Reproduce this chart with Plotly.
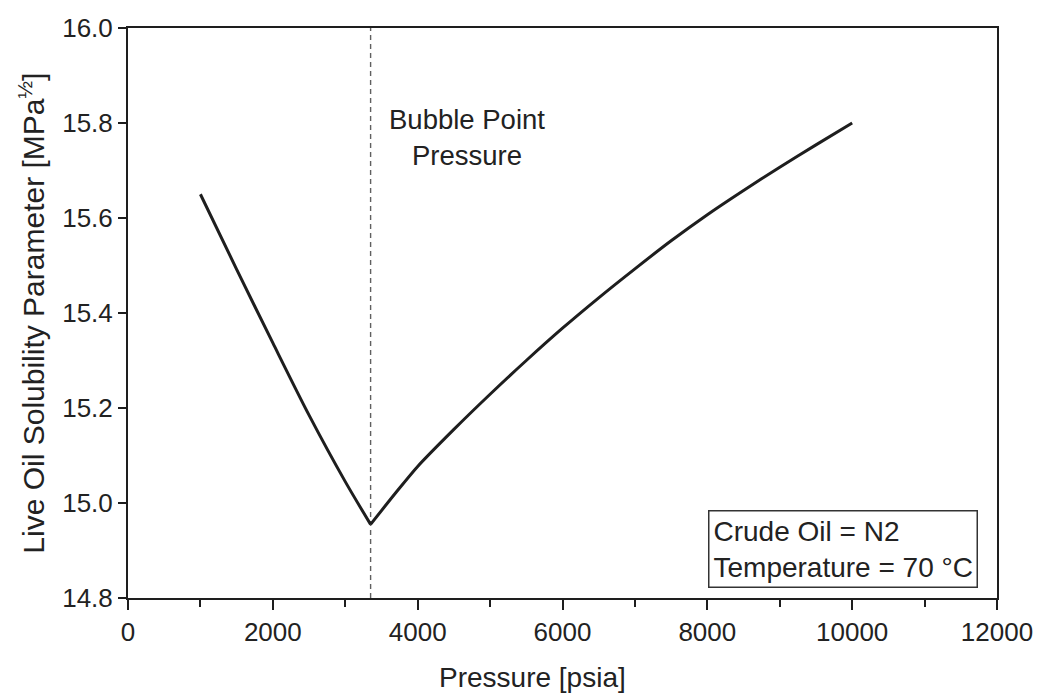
import plotly.graph_objects as go

# Data
pressure_below = [1000, 1500, 2000, 2500, 3000, 3350]
solubility_below = [15.65, 15.492, 15.337, 15.185, 15.045, 14.955]
pressure_above = [3350, 3700, 4000, 4500, 5000, 5500, 6000, 6500, 7000, 7500, 8000, 8500, 9000, 9500, 10000]
solubility_above = [14.955, 15.022, 15.077, 15.155, 15.229, 15.300, 15.368, 15.432, 15.493, 15.552, 15.607, 15.658, 15.707, 15.754, 15.80]
bubble_point = 3350
x_ticks = [0, 2000, 4000, 6000, 8000, 10000, 12000]
y_ticks = [14.8, 15.0, 15.2, 15.4, 15.6, 15.8, 16.0]

FONT = "Liberation Sans, Arial, sans-serif"
INK = "#1e1e1e"

fig = go.Figure()
fig.add_trace(go.Scatter(
    x=[bubble_point, bubble_point], y=[y_ticks[0], y_ticks[-1]],
    mode="lines", line=dict(color="#606060", width=1.4, dash="5px,4px"),
    showlegend=False, hoverinfo="skip"))
for xs, ys in ((pressure_below, solubility_below), (pressure_above, solubility_above)):
    fig.add_trace(go.Scatter(
        x=xs, y=ys, mode="lines",
        line=dict(color=INK, width=3, shape="spline", smoothing=0.8),
        showlegend=False))

fig.update_layout(
    width=1045, height=694,
    margin=dict(l=128, r=42, t=28, b=96),
    paper_bgcolor="white", plot_bgcolor="white",
    font=dict(family=FONT, size=26, color="#222222"),
)
fig.update_xaxes(
    range=[0, 12000], tickvals=x_ticks, ticktext=[str(v) for v in x_ticks],
    ticks="outside", ticklen=10, tickwidth=2, tickcolor=INK,
    minor=dict(dtick=1000, ticks="outside", ticklen=7, tickwidth=2, tickcolor=INK),
    showline=True, linecolor=INK, linewidth=2, mirror=True,
    showgrid=False, zeroline=False, tickfont=dict(size=26),
)
fig.update_yaxes(
    range=[14.8, 16.0], tickvals=y_ticks, ticktext=[f"{v:.1f}" for v in y_ticks],
    ticks="outside", ticklen=8, tickwidth=2, tickcolor=INK,
    showline=True, linecolor=INK, linewidth=2, mirror=True,
    showgrid=False, zeroline=False, tickfont=dict(size=26),
)

# Axis titles
fig.add_annotation(x=(535 - 128) / 875, xref="paper", y=-(677 - 598) / 570, yref="paper",
                   text="Pressure [psia]", showarrow=False,
                   font=dict(size=28), xanchor="center", yanchor="middle")
fig.add_annotation(x=-(128 - 31) / 875, xref="paper", y=0.5, yref="paper",
                   text="Live Oil Solubility Parameter [MPa<sup>½</sup>]", showarrow=False,
                   textangle=-90, font=dict(size=30), xanchor="center", yanchor="middle")

fig.add_annotation(x=4680, y=15.77, text="Bubble Point<br>Pressure", showarrow=False,
                   font=dict(size=27.5), align="center", xanchor="center", yanchor="middle")
fig.add_annotation(x=(984 - 128) / 875, xref="paper", y=(598 - 588) / 570, yref="paper",
                   text="Crude Oil = N2<br>Temperature = 70 °C", showarrow=False,
                   font=dict(size=28), align="left", xanchor="right", yanchor="bottom",
                   bordercolor="#333333", borderwidth=1.5, borderpad=4, bgcolor="white")

fig.write_html("out.html")
